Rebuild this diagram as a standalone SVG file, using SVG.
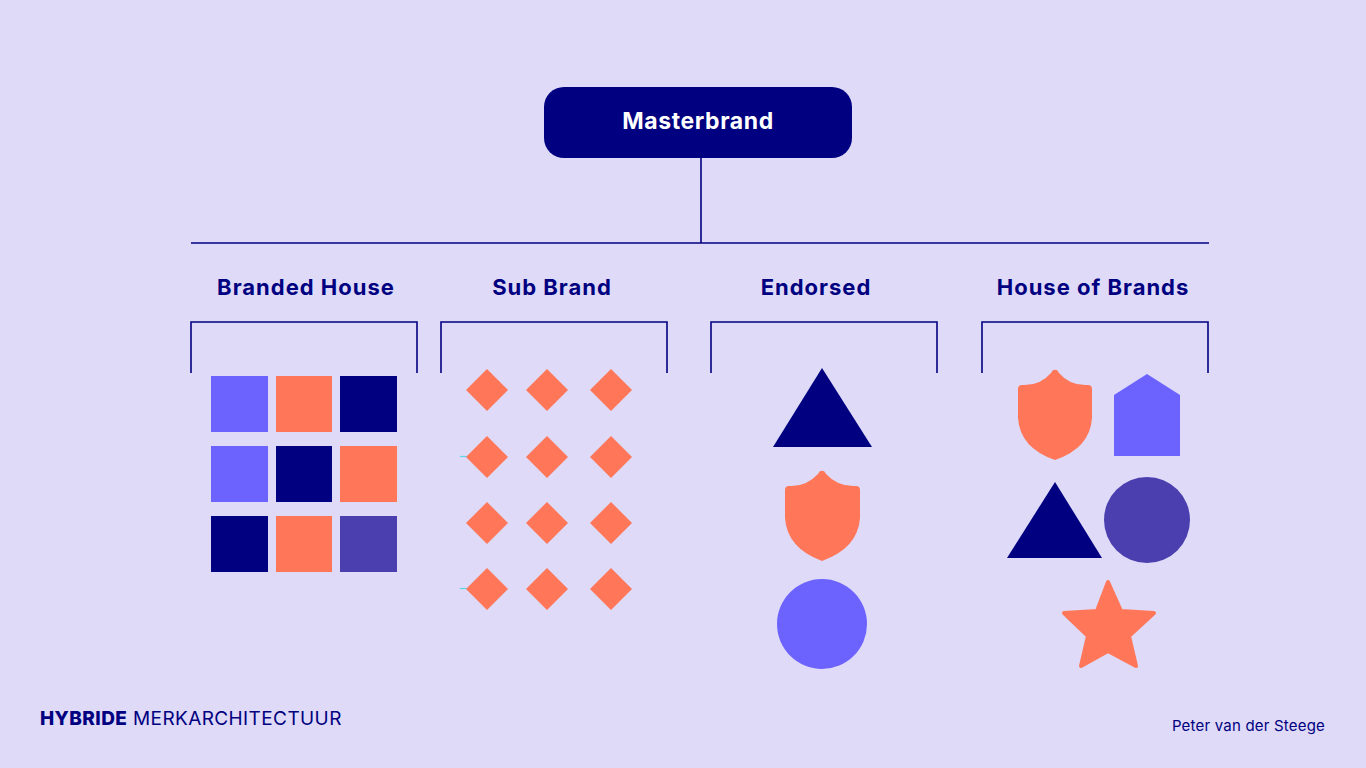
<svg xmlns="http://www.w3.org/2000/svg" width="1366" height="768" viewBox="0 0 1366 768">
<style>
.h{font-family:Inter,"Open Sans","Liberation Sans",sans-serif;font-weight:700;font-size:22px;letter-spacing:1px;fill:#000080;text-anchor:middle}
.ln{stroke:#000080;stroke-width:1.6;fill:none}
.p{fill:#6C63FF}.c{fill:#FF7758}.n{fill:#000080}.v{fill:#4B3FB0}
</style>
<defs>
<path id="dia" d="M0,-21 L21,0 L0,21 L-21,0 Z"/>
</defs>
<rect width="1366" height="768" fill="#DEDAF8"/>
<g id="connectors">
<line class="ln" x1="701" y1="158" x2="701" y2="243"/>
<line class="ln" x1="191" y1="243" x2="1209" y2="243"/>
<path class="ln" d="M191,373 V322 H417 V373"/>
<path class="ln" d="M441,373 V322 H667 V373"/>
<path class="ln" d="M711,373 V322 H937 V373"/>
<path class="ln" d="M982,373 V322 H1208 V373"/>
</g>
<g id="masterbrand">
<rect x="544" y="87" width="308" height="71" rx="20" fill="#000080"/>
<text x="698" y="129" class="h" style="fill:#fff;font-size:23px;letter-spacing:0.6px">Masterbrand</text>
</g>
<g id="branded-house">
<text x="306" y="295" class="h">Branded House</text>
<rect class="p" x="211" y="376" width="57" height="56"/>
<rect class="c" x="276" y="376" width="56" height="56"/>
<rect class="n" x="340" y="376" width="57" height="56"/>
<rect class="p" x="211" y="446" width="57" height="56"/>
<rect class="n" x="276" y="446" width="56" height="56"/>
<rect class="c" x="340" y="446" width="57" height="56"/>
<rect class="n" x="211" y="516" width="57" height="56"/>
<rect class="c" x="276" y="516" width="56" height="56"/>
<rect class="v" x="340" y="516" width="57" height="56"/>
</g>
<g id="sub-brand">
<text x="552" y="295" class="h">Sub Brand</text>
<line x1="460" y1="456.5" x2="467" y2="456.5" stroke="#5ED6E8" stroke-width="1.2"/>
<line x1="460" y1="588.5" x2="467" y2="588.5" stroke="#5ED6E8" stroke-width="1.2"/>
<g class="c">
<use href="#dia" x="487" y="390"/><use href="#dia" x="547" y="390"/><use href="#dia" x="611" y="390"/>
<use href="#dia" x="487" y="457"/><use href="#dia" x="547" y="457"/><use href="#dia" x="611" y="457"/>
<use href="#dia" x="487" y="523"/><use href="#dia" x="547" y="523"/><use href="#dia" x="611" y="523"/>
<use href="#dia" x="487" y="589"/><use href="#dia" x="547" y="589"/><use href="#dia" x="611" y="589"/>
</g>
</g>
<g id="endorsed">
<text x="816" y="295" class="h">Endorsed</text>
<path class="n" d="M822,368 L872,447 L773,447 Z"/>
<path class="c" d="M822,471 Q824,470 826,474 Q838,487 856,486 Q860,486 860,490 L860,518 Q858,548 822,561 Q787,548 785,518 L785,490 Q785,486 789,486 Q806,487 818,474 Q820,470 822,471 Z"/>
<circle class="p" cx="822" cy="624" r="45"/>
</g>
<g id="house-of-brands">
<text x="1093" y="295" class="h">House of Brands</text>
<path class="c" d="M1055,370 Q1057,369 1059,373 Q1070,386 1088,385 Q1092,385 1092,389 L1092,418 Q1090,448 1055,460 Q1020,448 1018,418 L1018,389 Q1018,385 1022,385 Q1040,386 1051,373 Q1053,369 1055,370 Z"/>
<path class="p" d="M1147,374 L1180,395 L1180,456 L1114,456 L1114,395 Z"/>
<path class="n" d="M1055,482 L1102,558 L1007,558 Z"/>
<circle class="v" cx="1147" cy="520" r="43"/>
<path class="c" stroke="#FF7758" stroke-width="4" stroke-linejoin="round" d="M1108,582 L1097,611 L1064,613 L1088,636 L1081,666 L1108,651 L1136,666 L1129,636 L1154,613 L1121,611 Z"/>
</g>
<g id="footer">
<text x="40" y="725" style="font-family:Inter,'Open Sans','Liberation Sans',sans-serif;font-size:19px;letter-spacing:0.4px;fill:#000080"><tspan font-weight="800">HYBRIDE</tspan> MERKARCHITECTUUR</text>
<text x="1325" y="731" style="font-family:Inter,'Open Sans','Liberation Sans',sans-serif;font-size:15px;letter-spacing:0.2px;fill:#000080;text-anchor:end">Peter van der Steege</text>
</g>
</svg>
